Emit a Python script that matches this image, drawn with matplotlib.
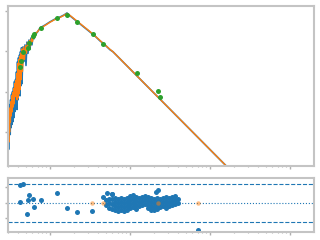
import numpy as np
import matplotlib
matplotlib.use("Agg")
import matplotlib.pyplot as plt
from matplotlib.ticker import NullLocator, FixedLocator

# observed spectrum (log10 wavelength [um], log10 flux)
obs_logwave = [-1.525, -1.521, -1.5175, -1.5125, -1.5075, -1.5025, -1.4975, -1.4925,
               -1.4875, -1.481, -1.475, -1.469, -1.4625, -1.456, -1.45, -1.444,
               -1.4375, -1.431, -1.425, -1.419, -1.4125, -1.406, -1.4, -1.394,
               -1.3875, -1.381, -1.375, -1.369, -1.3625, -1.356, -1.35, -1.3375,
               -1.325, -1.3125, -1.3, -1.2875, -1.275, -1.2625, -1.25, -1.2375,
               -1.225, -1.2125, -1.2, -1.1875, -1.1625, -1.125, -1.0625, -1.0,
               -0.9375, -0.875, -0.825, -0.7875, -0.75, -0.6875, -0.625, -0.5625,
               -0.5, -0.4375, -0.375, -0.3125, -0.25, -0.2125, 1.5]
obs_logflux = [-3.80, -2.89, -3.43, -2.64, -3.06, -2.32, -3.06, -2.20,
               -2.89, -2.07, -2.81, -2.00, -2.74, -1.90, -2.64, -1.75,
               -2.49, -1.70, -2.20, -1.51, -2.44, -1.26, -2.20, -1.16,
               -2.07, -1.09, -2.10, -1.01, -1.85, -0.91, -1.80, -0.89,
               -1.25, -0.84, -1.35, -0.77, -1.05, -0.72, -0.95, -0.67,
               -0.84, -0.59, -0.69, -0.54, -0.54, -0.42, -0.35, -0.27,
               -0.20, -0.15, -0.10, -0.05, -0.12, -0.22, -0.32, -0.42,
               -0.52, -0.62, -0.74, -0.84, -0.96, -1.01, -4.43]

# model spectrum
mod_logwave = [-1.525, -1.52, -1.515, -1.51, -1.505, -1.5, -1.495, -1.49,
               -1.485, -1.4775, -1.4725, -1.465, -1.46, -1.4525, -1.4475, -1.44,
               -1.435, -1.4275, -1.4225, -1.415, -1.41, -1.4025, -1.3975, -1.39,
               -1.385, -1.3775, -1.3725, -1.365, -1.36, -1.3525, -1.344, -1.331,
               -1.319, -1.306, -1.294, -1.281, -1.269, -1.256, -1.244, -1.231,
               -1.219, -1.206, -1.194, -1.175, -1.15, -1.125, -1.0625, -1.0,
               -0.9375, -0.875, -0.825, -0.7875, -0.75, -0.6875, -0.625, -0.5625,
               -0.5, -0.4375, -0.375, -0.3125, -0.25, -0.2125, 1.5]
mod_logflux = [-3.40, -2.95, -3.25, -2.70, -3.00, -2.40, -2.75, -2.25,
               -2.60, -2.10, -2.50, -2.02, -2.38, -1.92, -2.30, -1.80,
               -2.12, -1.72, -2.10, -1.55, -2.20, -1.30, -2.15, -1.20,
               -2.05, -1.12, -1.95, -1.04, -1.70, -0.94, -1.50, -0.90,
               -1.20, -0.86, -1.05, -0.78, -0.95, -0.73, -0.86, -0.68,
               -0.76, -0.60, -0.66, -0.55, -0.50, -0.43, -0.36, -0.28,
               -0.21, -0.16, -0.11, -0.06, -0.11, -0.21, -0.31, -0.41,
               -0.51, -0.62, -0.73, -0.84, -0.95, -1.01, -4.43]

# photometry
phot_logwave = [-1.375, -1.3625, -1.3375, -1.275, -1.2625, -1.2125, -1.2, -1.1125,
                -0.9125, -0.7875, -0.6625, -0.4625, -0.3375, 0.0875, 0.35, 0.37]
phot_logflux = [-1.38, -1.23, -1.01, -0.91, -0.79, -0.62, -0.57, -0.42,
                -0.17, -0.10, -0.27, -0.57, -0.81, -1.53, -1.98, -2.12]

# residuals
res_logwave = [-1.375, -1.341, -1.259, -1.271, -1.209, -1.375, -1.196, -1.284,
               -1.1125, -0.909, -0.784, -0.659, -0.471, -0.334, -0.284, -0.221,
               0.325, 0.35, 0.85,
               -0.3, -0.3,
               -0.2625, -0.2625, -0.2625,
               -0.225, -0.225, -0.225, -0.225,
               -0.1875, -0.1875, -0.1875, -0.1875,
               -0.15, -0.15, -0.15, -0.15,
               -0.1125, -0.1125, -0.1125, -0.1125,
               -0.075, -0.075, -0.075, -0.075,
               -0.0375, -0.0375, -0.0375, -0.0375,
               0.0, 0.0, 0.0, 0.0,
               0.0375, 0.0375, 0.0375, 0.0375,
               0.075, 0.075, 0.075, 0.075,
               0.1125, 0.1125, 0.1125,
               0.15, 0.15, 0.15,
               0.1875, 0.1875, 0.1875,
               0.225, 0.225, 0.225, 0.225,
               0.2625, 0.2625, 0.2625, 0.2625,
               0.3, 0.3, 0.3, 0.3,
               0.3375, 0.3375, 0.3375, 0.3375,
               0.375, 0.375, 0.375,
               0.4125, 0.4125, 0.4125,
               0.45, 0.45, 0.45, 0.45,
               0.4875, 0.4875, 0.4875,
               0.525, 0.525, 0.525,
               0.5625, 0.5625, 0.5625,
               0.6, 0.6]
res_value = [1.16, 1.23, 0.52, 0.19, 0.24, 0.05, -0.28, -0.73,
             0.19, 0.63, -0.34, -0.60, -0.52, 0.37, 0.63, 0.58,
             0.71, 0.84, -1.74,
             0.19, -0.13,
             0.26, 0.0, -0.32,
             0.58, 0.26, -0.06, -0.39,
             0.32, 0.06, -0.19, -0.45,
             0.26, 0.0, -0.26, -0.52,
             0.32, 0.06, -0.19, -0.45,
             0.26, 0.0, -0.26, -0.52,
             0.32, 0.06, -0.19, -0.45,
             0.45, 0.19, -0.06, -0.32,
             0.52, 0.26, 0.0, -0.26,
             0.39, 0.13, -0.13, -0.39,
             0.32, 0.06, -0.19,
             0.39, 0.13, -0.13,
             0.45, 0.19, -0.06,
             0.39, 0.13, -0.13, -0.32,
             0.32, 0.06, -0.19, -0.45,
             0.26, 0.0, -0.26, -0.45,
             0.32, 0.06, -0.19, -0.39,
             0.26, 0.0, -0.26,
             0.32, 0.06, -0.19,
             0.39, 0.13, -0.13, -0.32,
             0.32, 0.06, -0.19,
             0.39, 0.13, -0.13,
             0.45, 0.19, -0.06,
             0.26, 0.0]

model_pt_logwave = [-0.471, -0.334, 0.35, 0.854]
model_pt_value = [0.0, 0.0, 0.0, 0.0]

sigma_band = 1.2

spine_col = "#c4c4c4"
tick_col = "#b0b0b0"


def style(ax):
    for s in ax.spines.values():
        s.set_color(spine_col)
        s.set_linewidth(1.5)
    ax.tick_params(which="both", colors=tick_col, labelleft=False, labelbottom=False,
                   direction="out")
    ax.tick_params(which="major", length=2.0, width=1)
    ax.tick_params(which="minor", length=1.0, width=0.8)


fig = plt.figure(figsize=(3.2, 2.4), dpi=100)
ax = fig.add_axes([0.025, 0.3083, 0.956, 0.6667])
axr = fig.add_axes([0.025, 0.0346, 0.956, 0.2254])

ax.plot(10 ** np.array(obs_logwave), 10 ** np.array(obs_logflux), color="tab:blue", lw=1.2)
ax.plot(10 ** np.array(mod_logwave), 10 ** np.array(mod_logflux), color="tab:orange", lw=1.0)
ax.plot(10 ** np.array(phot_logwave), 10 ** np.array(phot_logflux), "o", color="tab:green",
        ms=3.6, mec="none")
ax.set_xscale("log")
ax.set_yscale("log")
ax.set_xlim(10 ** -1.525, 10 ** 2.3)
ax.set_ylim(10 ** -3.84, 10 ** 0.123)
ax.yaxis.set_major_locator(FixedLocator([1e-3, 1e-2, 1e-1, 1e0]))
ax.yaxis.set_minor_locator(NullLocator())
style(ax)

axr.axhline(sigma_band, color="tab:blue", ls="--", lw=0.8)
axr.axhline(-sigma_band, color="tab:blue", ls="--", lw=0.8)
axr.axhline(0, color="tab:blue", ls=":", lw=0.8)
axr.plot(10 ** np.array(res_logwave), res_value, "o", color="tab:blue", ms=3.6, mec="none")
axr.plot(10 ** np.array(model_pt_logwave), model_pt_value, "o", color="tab:orange", ms=3.2,
         mec="none", alpha=0.5)
axr.set_xscale("log")
axr.set_xlim(10 ** -1.525, 10 ** 2.3)
axr.set_ylim(-1.85, 1.63)
axr.yaxis.set_major_locator(FixedLocator([-1, 0, 1]))
style(axr)

fig.savefig("out.png", dpi=100)
